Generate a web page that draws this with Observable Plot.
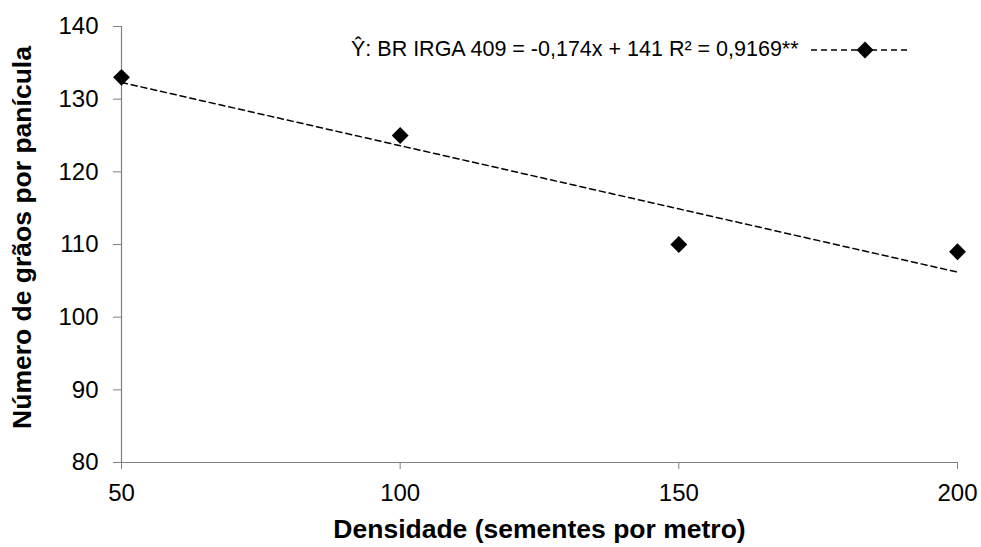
<!DOCTYPE html>
<html>
<head>
<meta charset="utf-8">
<script src="https://cdn.jsdelivr.net/npm/d3@7"></script>
<script src="https://cdn.jsdelivr.net/npm/@observablehq/plot@0.6"></script>
<style>
  body { margin: 0; background: #fff; font-family: "Liberation Sans", Arial, sans-serif; }
  #wrap { position: relative; width: 981px; height: 547px; }
  #legend { position: absolute; left: 351px; top: 37px; display: flex; align-items: center;
            font-size: 21.5px; white-space: nowrap; color: #000; }
  #legend svg { margin-left: 12px; }
</style>
</head>
<body>
<div id="wrap">
  <div id="legend"><span id="legend-text"></span><svg width="96" height="20"><line x1="0" y1="10" x2="96" y2="10" stroke="#000" stroke-width="1.5" stroke-dasharray="6,4"/><path d="M54,1.5L62.5,10L54,18.5L45.5,10Z" fill="#000"/></svg></div>
</div>
<script>
// Grain count per panicle of BR IRGA 409 at four sowing densities
const densidade = [50, 100, 150, 200];
const graos = [133, 125, 110, 109];

// Axis ticks
const xTicks = [50, 100, 150, 200];
const yTicks = [80, 90, 100, 110, 120, 130, 140];

// Fitted linear equation as printed in the legend
const slope = -0.174;
const intercept = 141;
const r2Label = "0,9169**";

const xTitle = "Densidade (sementes por metro)";
const yTitle = "Número de grãos por panícula";

const points = densidade.map((x, i) => ({x, y: graos[i]}));
const fit = d3.extent(densidade).map(x => ({x, y: intercept + slope * x}));

document.getElementById("legend-text").textContent =
  `Ŷ: BR IRGA 409 = ${String(slope).replace(".", ",")}x + ${intercept} R² = ${r2Label}`;

const axisGray = "#808080";

const chart = Plot.plot({
  width: 981,
  height: 547,
  marginLeft: 121,
  marginRight: 24,
  marginTop: 26,
  marginBottom: 85,
  style: {fontFamily: "'Liberation Sans', Arial, sans-serif", fontSize: "24px", color: "#000", background: "#fff"},
  x: {domain: d3.extent(xTicks)},
  y: {domain: d3.extent(yTicks)},
  marks: [
    Plot.axisY({ticks: yTicks, tickSize: 8, tickPadding: 15, stroke: axisGray, label: null}),
    Plot.axisX({ticks: xTicks, tickSize: 7, tickPadding: 14, stroke: axisGray, label: null}),
    Plot.ruleX([xTicks[0]], {stroke: axisGray, strokeWidth: 1.2}),
    Plot.ruleY([yTicks[0]], {stroke: axisGray, strokeWidth: 1.2}),
    Plot.line(fit, {x: "x", y: "y", stroke: "#000", strokeWidth: 1.5, strokeDasharray: "6,4"}),
    Plot.dot(points, {x: "x", y: "y", symbol: "diamond2", r: 7.6, fill: "#000", stroke: "none"}),
    Plot.text([xTitle], {frameAnchor: "bottom", lineAnchor: "middle", textAnchor: "middle", dy: 67, fontWeight: "bold", fontSize: 26.5}),
    Plot.text([yTitle], {frameAnchor: "left", lineAnchor: "middle", textAnchor: "middle", dx: -99, dy: -7, rotate: -90, fontWeight: "bold", fontSize: 26.5})
  ]
});

document.getElementById("wrap").prepend(chart);
chart.style.display = "block";
</script>
</body>
</html>
